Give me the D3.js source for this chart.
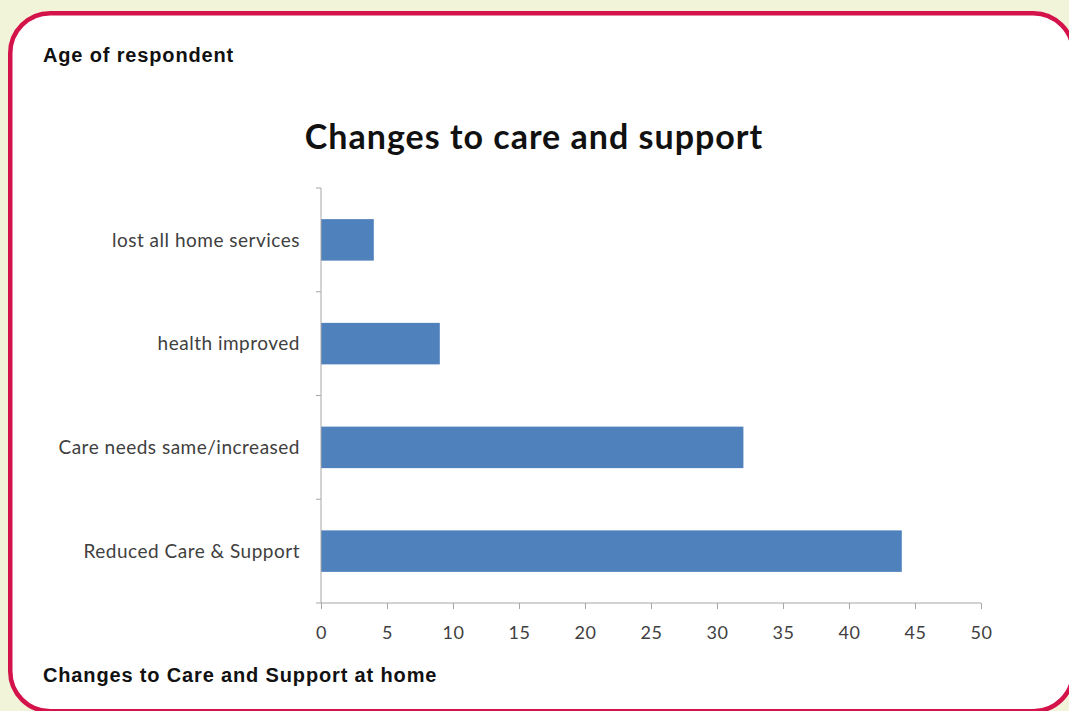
<!doctype html>
<html lang="en">
<head>
<meta charset="utf-8" />
<style>
  body { margin: 0; background: #f2f4d9; }
  svg text { font-family: Lato, "Open Sans", sans-serif; }
  .note { font-family: "Liberation Sans", Arial, sans-serif !important; font-weight: bold; font-size: 20px; letter-spacing: 0.85px; fill: #111; }
  .axis path, .axis line { stroke: #a6a6a6; }
  .axis text { fill: #404040; font-size: 19px; letter-spacing: 0.5px; }
  .axis.xa text { font-size: 18px; }
</style>
</head>
<body>
<div id="chart"></div>
<script src="https://d3js.org/d3.v7.min.js"></script>
<script>
  var width = 1069,
      height = 711;

  // data, top to bottom as in the picture
  var categories = ["lost all home services", "health improved", "Care needs same/increased", "Reduced Care & Support"];
  var values = [4, 9, 32, 44];
  var xTicks = [0, 5, 10, 15, 20, 25, 30, 35, 40, 45, 50];

  var svg = d3.select("#chart").append("svg")
      .attr("width", width)
      .attr("height", height);

  // white panel with the red rounded border
  svg.append("rect")
    .attr("x", 10.25).attr("y", 13.25)
    .attr("width", 1063).attr("height", 698)
    .attr("rx", 40).attr("ry", 40)
    .attr("fill", "#fff")
    .attr("stroke", "#d3134a")
    .attr("stroke-width", 4.5);

  svg.append("text").attr("class", "note")
    .attr("x", 43).attr("y", 62)
    .text("Age of respondent");

  svg.append("text").attr("class", "note")
    .attr("x", 43).attr("y", 682)
    .text("Changes to Care and Support at home");

  svg.append("text")
    .attr("x", 534).attr("y", 149)
    .attr("text-anchor", "middle")
    .style("font-weight", "bold")
    .style("font-size", "34px")
    .style("letter-spacing", "1px")
    .style("fill", "#111")
    .text("Changes to care and support");

  var x = d3.scaleLinear().domain([0, 50]).range([321, 981]);
  var y = d3.scaleBand().domain(categories).range([188, 603]).paddingInner(0.6).paddingOuter(0.3);

  // bars
  svg.append("g").selectAll("rect")
    .data(categories)
    .enter().append("rect")
    .attr("x", x(0))
    .attr("y", d => y(d))
    .attr("width", (d, i) => x(values[i]) - x(0))
    .attr("height", y.bandwidth())
    .attr("fill", "#4f81bd");

  // x axis
  var xAxis = svg.append("g").attr("class", "axis xa")
    .attr("transform", "translate(0,603)")
    .call(d3.axisBottom(x).tickValues(xTicks).tickSize(6).tickSizeOuter(0).tickPadding(17));
  xAxis.select(".domain").attr("d", "M" + x(0) + ",0H" + x(50));

  // y axis: line with ticks between the categories
  var yAxis = svg.append("g").attr("class", "axis");
  yAxis.append("line")
    .attr("x1", x(0)).attr("x2", x(0))
    .attr("y1", 188).attr("y2", 603);
  var bounds = d3.range(categories.length + 1).map(i => 603 - i * (415 / categories.length));
  yAxis.selectAll(".tk").data(bounds).enter().append("line")
    .attr("x1", x(0) - 5).attr("x2", x(0))
    .attr("y1", d => d).attr("y2", d => d);
  yAxis.selectAll("text").data(categories).enter().append("text")
    .attr("x", 300)
    .attr("y", d => y(d) + y.bandwidth() / 2)
    .attr("dy", "0.35em")
    .attr("text-anchor", "end")
    .text(d => d);
</script>
</body>
</html>
